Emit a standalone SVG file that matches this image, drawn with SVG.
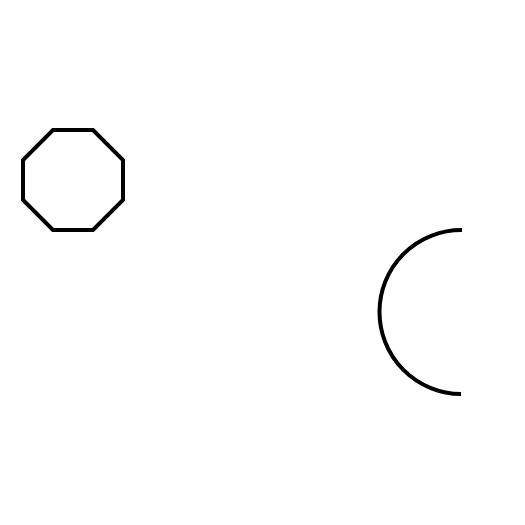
<svg xmlns="http://www.w3.org/2000/svg" width="525" height="525" viewBox="0 0 525 525">
<style>.s{fill:none;stroke:#000;stroke-width:4}</style>
<rect width="525" height="525" fill="#fff"/>
<g id="octagon"><polygon class="s" points="53,130 93,130 123,160 123,200 93,230 53,230 23,200 23,160"/></g>
<g id="arc"><path class="s" d="M 462 230 A 82 82 0 0 0 461 394"/></g>
</svg>
